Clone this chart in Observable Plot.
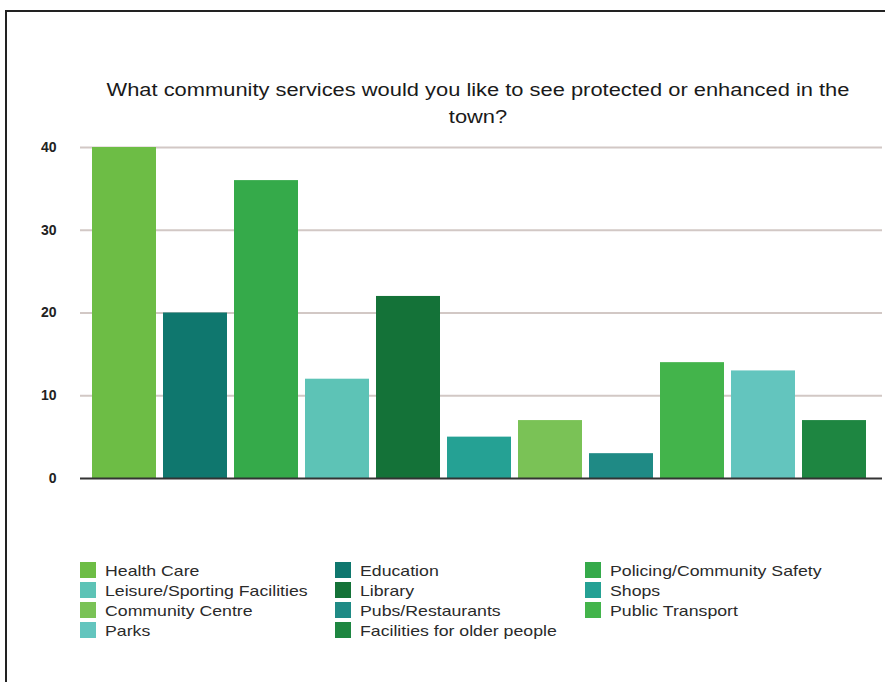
<!DOCTYPE html>
<html>
<head>
<meta charset="utf-8">
<script src="https://cdn.jsdelivr.net/npm/d3@7"></script>
<script src="https://cdn.jsdelivr.net/npm/@observablehq/plot@0.6"></script>
<style>
  html, body { margin: 0; padding: 0; background: #fff; overflow: hidden; width: 885px; height: 682px; }
  body { position: relative; font-family: "Liberation Sans", Arial, Helvetica, sans-serif; color: #222; }
  #frame { position: absolute; left: 5px; top: 10px; width: 920px; height: 720px; border: 2px solid #222; box-sizing: border-box; }
  #title { position: absolute; left: 80px; width: 796px; top: 77px; text-align: center; font-size: 17.5px; line-height: 27px; color: #1a1a1a; transform: scaleX(1.25); transform-origin: 398px 0; }
  #chart { position: absolute; left: 0; top: 130px; }
  #legend { position: absolute; left: 80px; top: 562px; display: grid; grid-template-columns: 255px 250px 250px; row-gap: 4px; font-size: 15px; color: #2a2a2a; }
  .item { display: flex; align-items: center; height: 16px; }
  .sw { width: 16px; height: 16px; margin-right: 9px; flex: none; }
  .lbl { display: inline-block; white-space: nowrap; transform: scaleX(1.18); transform-origin: 0 50%; }
</style>
</head>
<body>
<div id="frame"></div>
<div id="title">What community services would you like to see protected or enhanced in the<br>town?</div>
<div id="chart"></div>
<div id="legend"></div>
<script>
const categories = ["Health Care", "Education", "Policing/Community Safety", "Leisure/Sporting Facilities", "Library", "Shops", "Community Centre", "Pubs/Restaurants", "Public Transport", "Parks", "Facilities for older people"];
const values = [40, 20, 36, 12, 22, 5, 7, 3, 14, 13, 7];
const colors = ["#6dbd45", "#0f776e", "#35aa4a", "#5dc3b6", "#147238", "#25a194", "#7ac256", "#1f8a85", "#43b44b", "#63c5be", "#1e8641"];
const yTicks = [0, 10, 20, 30, 40];

const data = categories.map((c, i) => ({category: c, value: values[i]}));

const chart = Plot.plot({
  width: 885,
  height: 360,
  marginTop: 17,
  marginBottom: 12,
  marginLeft: 80,
  marginRight: 3,
  style: {fontFamily: "Liberation Sans, Arial, sans-serif", fontSize: "14px", color: "#222"},
  x: {domain: categories, range: [88, 869], paddingInner: 0.1, paddingOuter: 0.05, axis: null},
  y: {domain: [0, 40], ticks: yTicks, tickSize: 0, tickPadding: 24, label: null, tickFormat: d => d},
  color: {domain: categories, range: colors},
  marks: [
    Plot.gridY(yTicks.filter(d => d > 0), {stroke: "#d2c8c5", strokeOpacity: 1, strokeWidth: 2}),
    Plot.barY(data, {x: "category", y: "value", fill: "category"}),
    Plot.ruleY([0], {stroke: "#333", strokeWidth: 2}),
    Plot.axisY({ticks: yTicks, tickSize: 0, tickPadding: 24, fontWeight: "bold", fill: "#222"})
  ]
});
document.getElementById("chart").appendChild(chart);

const legend = document.getElementById("legend");
categories.forEach((c, i) => {
  const item = document.createElement("div");
  item.className = "item";
  const sw = document.createElement("span");
  sw.className = "sw";
  sw.style.background = colors[i];
  const t = document.createElement("span");
  t.className = "lbl";
  t.textContent = c;
  item.appendChild(sw);
  item.appendChild(t);
  legend.appendChild(item);
});
</script>
</body>
</html>
